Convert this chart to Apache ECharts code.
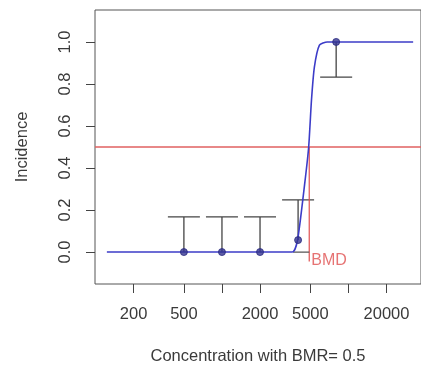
<!DOCTYPE html>
<html>
<head>
<meta charset="utf-8">
<script src="https://cdn.jsdelivr.net/npm/echarts@6/dist/echarts.min.js"></script>
<style>
  html, body { margin: 0; padding: 0; background: #fff; }
  #chart { width: 421px; height: 370px; }
</style>
</head>
<body>
<div id="chart"></div>
<script>
// observed doses and incidence
const doses = [500, 1000, 2000, 4000, 8000];
const incidence = [0, 0, 0, 0.057, 1.0];
// one-sided confidence bars (other end of each bar)
const barEnds = [0.167, 0.167, 0.167, 0.248, 0.833];

// fitted curve
const curveX = [123, 3600, 3960, 4500, 4850, 5100, 5380, 5900, 6800, 32500];
const curveY = [0, 0, 0.057, 0.32, 0.5, 0.72, 0.88, 0.985, 1.0, 1.0];

const bmr = 0.5;
const bmd = 4900;
const bmdLow = 3650;

const xTicks = [200, 500, 1000, 2000, 5000, 10000, 20000];
const xLabels = [200, 500, 2000, 5000, 20000];
const yTicks = [0, 0.2, 0.4, 0.6, 0.8, 1.0];

const xMin = 1.996;
const xMax = 4.574;

const lg = v => Math.log10(v);
const font = "'Liberation Sans', Arial, sans-serif";
const textColor = "#3a3a3a";

const chart = echarts.init(document.getElementById("chart"));

chart.setOption({
  animation: false,
  grid: {
    left: 95, top: 10, right: -4, bottom: 86,
    show: true, borderColor: "#555", borderWidth: 1, backgroundColor: "transparent",
  },
  xAxis: {
    type: "value",
    min: xMin,
    max: xMax,
    name: "Concentration with BMR= 0.5",
    nameLocation: "middle",
    nameGap: 64,
    nameTextStyle: { fontFamily: font, fontSize: 16.5, color: textColor },
    axisLine: { show: false, onZero: false },
    splitLine: { show: false },
    axisTick: {
      show: true, length: 9, inside: false,
      customValues: xTicks.map(lg),
      lineStyle: { color: "#444", width: 1 },
    },
    axisLabel: {
      customValues: xLabels.map(lg),
      margin: 22,
      fontFamily: font, fontSize: 16.5, color: textColor,
      formatter: v => String(Math.round(Math.pow(10, v))),
    },
  },
  yAxis: {
    type: "value",
    min: -0.152,
    max: 1.152,
    name: "Incidence",
    nameLocation: "middle",
    nameGap: 64,
    nameTextStyle: { fontFamily: font, fontSize: 16.5, color: textColor },
    axisLine: { show: false, onZero: false },
    splitLine: { show: false },
    axisTick: {
      show: true, length: 9, inside: false,
      customValues: yTicks,
      lineStyle: { color: "#444", width: 1 },
    },
    axisLabel: {
      customValues: yTicks,
      rotate: 90,
      margin: 21,
      fontFamily: font, fontSize: 16.5, color: textColor,
      formatter: v => v.toFixed(1),
    },
  },
  series: [
    {
      name: "bmr",
      type: "line",
      data: [[xMin, bmr], [xMax, bmr]],
      showSymbol: false,
      lineStyle: { color: "#e06060", width: 1.3 },
      z: 1,
    },
    {
      name: "bmd",
      type: "line",
      data: [[lg(bmd), bmr], [lg(bmd), -0.045]],
      showSymbol: false,
      lineStyle: { color: "#e05050", width: 1.2 },
      z: 3,
    },
    {
      name: "bmdLabel",
      type: "scatter",
      data: [[lg(bmd), -0.04]],
      symbolSize: 0,
      label: {
        show: true, position: "right", distance: 2, formatter: "BMD",
        fontFamily: font, fontSize: 16, color: "#e05050",
      },
    },
    {
      name: "bmdInterval",
      type: "line",
      data: [[lg(bmdLow), 0], [lg(bmd), 0]],
      showSymbol: false,
      lineStyle: { color: "#555", width: 1.2 },
      z: 4,
    },
    {
      name: "bars",
      type: "custom",
      data: doses.map((d, i) => [lg(d), incidence[i], barEnds[i]]),
      renderItem: (params, api) => {
        const a = api.coord([api.value(0), api.value(1)]);
        const b = api.coord([api.value(0), api.value(2)]);
        const half = 16;
        const style = { stroke: "#444", lineWidth: 1.3 };
        return {
          type: "group",
          children: [
            { type: "line", shape: { x1: a[0], y1: a[1], x2: b[0], y2: b[1] }, style },
            { type: "line", shape: { x1: b[0] - half, y1: b[1], x2: b[0] + half, y2: b[1] }, style },
          ],
        };
      },
      z: 2,
    },
    {
      name: "fit",
      type: "line",
      data: curveX.map((x, i) => [lg(x), curveY[i]]),
      showSymbol: false,
      smooth: 0.2,
      lineStyle: { color: "#3c3cc8", width: 1.6 },
      z: 5,
    },
    {
      name: "obs",
      type: "scatter",
      data: doses.map((d, i) => [lg(d), incidence[i]]),
      symbolSize: 7,
      itemStyle: { color: "#34348f", borderColor: "#2a2a80", borderWidth: 1 },
      z: 6,
    },
  ],
});
</script>
</body>
</html>
